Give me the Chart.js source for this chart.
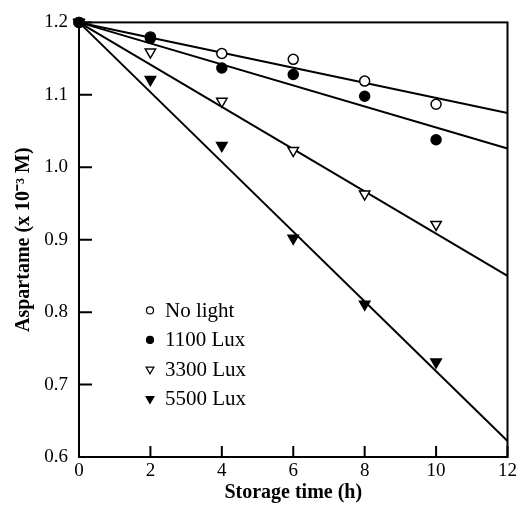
<!DOCTYPE html>
<html>
<head>
<meta charset="utf-8">
<script src="https://cdn.jsdelivr.net/npm/chart.js@4/dist/chart.umd.min.js"></script>
<style>
  html, body { margin: 0; padding: 0; background: #fff; }
  canvas { display: block; }
</style>
</head>
<body>
<canvas id="aspartameChart" width="520" height="507"></canvas>
<script>
// Measured points (storage time in h, aspartame in 10^-3 M)
const hours = [0, 2, 4, 6, 8, 10];
const noLight = [1.20, 1.18, 1.157, 1.149, 1.119, 1.087];
const lux1100 = [1.20, 1.178, 1.137, 1.128, 1.098, 1.038];
const lux3300 = [1.20, 1.159, 1.091, 1.023, 0.963, 0.921];
const lux5500 = [1.20, 1.121, 1.030, 0.902, 0.811, 0.731];

// Fitted lines (start and end values)
const fitHours = [0, 12];
const fitNoLight = [1.20, 1.075];
const fit1100 = [1.20, 1.026];
const fit3300 = [1.20, 0.850];
const fit5500 = [1.20, 0.622];

const seriesNames = ['No light', '1100 Lux', '3300 Lux', '5500 Lux'];
const xTicks = [0, 2, 4, 6, 8, 10, 12];
const yTicks = [0.6, 0.7, 0.8, 0.9, 1.0, 1.1, 1.2];

const serif = '"Liberation Serif", "Times New Roman", serif';

function toPoints(xs, ys) {
    return xs.map((x, i) => ({ x: x, y: ys[i] }));
}

// Markers for each series
const markerStyles = [
    { pointStyle: 'circle', rotation: 0, fill: '#fff', radius: 5 },
    { pointStyle: 'circle', rotation: 0, fill: '#000', radius: 5 },
    { pointStyle: 'triangle', rotation: 180, fill: '#fff', radius: 6 },
    { pointStyle: 'triangle', rotation: 180, fill: '#000', radius: 6 }
];

const measured = [noLight, lux1100, lux3300, lux5500];
const fits = [fitNoLight, fit1100, fit3300, fit5500];

const datasets = [];

// fitted lines: high order so they are drawn below the markers
fits.forEach((f, i) => {
    datasets.push({
        label: seriesNames[i] + ' fit',
        data: toPoints(fitHours, f),
        showLine: true,
        borderColor: '#000',
        borderWidth: 2,
        pointRadius: 0,
        fill: false,
        clip: false,
        order: 10
    });
});

// later series on top (filled dot hides the open circle at 2 h)
measured.forEach((m, i) => {
    const s = markerStyles[i];
    datasets.push({
        label: seriesNames[i],
        data: toPoints(hours, m),
        showLine: false,
        pointStyle: s.pointStyle,
        pointRotation: s.rotation,
        pointRadius: s.radius,
        pointBackgroundColor: s.fill,
        pointBorderColor: '#000',
        pointBorderWidth: 1.5,
        clip: false,
        order: 5 - i
    });
});

// Box round the plot plus inward tick marks
const framePlugin = {
    id: 'frame',
    afterDraw(chart) {
        const ctx = chart.ctx;
        const { left, right, top, bottom } = chart.chartArea;
        ctx.save();
        ctx.strokeStyle = '#000';
        ctx.lineWidth = 2;
        ctx.strokeRect(left, top, right - left, bottom - top);
        ctx.beginPath();
        xTicks.forEach(v => {
            const px = chart.scales.x.getPixelForValue(v);
            ctx.moveTo(px, bottom);
            ctx.lineTo(px, bottom - 11);
        });
        yTicks.forEach(v => {
            const py = chart.scales.y.getPixelForValue(v);
            ctx.moveTo(left, py);
            ctx.lineTo(left + 13, py);
        });
        ctx.stroke();
        ctx.restore();
    }
};

// Legend drawn inside the plot area
const insideLegend = {
    id: 'insideLegend',
    afterDraw(chart) {
        const ctx = chart.ctx;
        const area = chart.chartArea;
        ctx.save();
        ctx.font = '21px ' + serif;
        ctx.textBaseline = 'middle';
        seriesNames.forEach((name, i) => {
            const s = markerStyles[i];
            const x = area.left + 71;
            const y = area.top + 288 + i * 29.5;
            ctx.fillStyle = s.fill;
            ctx.strokeStyle = '#000';
            ctx.lineWidth = 1.2;
            Chart.helpers.drawPoint(ctx, {
                pointStyle: s.pointStyle,
                rotation: s.rotation,
                radius: s.radius - 1.5,
                borderWidth: 1.2
            }, x, y);
            ctx.fillStyle = '#000';
            ctx.fillText(name, x + 15, y + 1);
        });
        ctx.restore();
    }
};

const ctx = document.getElementById('aspartameChart').getContext('2d');
new Chart(ctx, {
    type: 'scatter',
    data: { datasets: datasets },
    options: {
        responsive: false,
        animation: false,
        layout: { padding: { top: 20, right: 10, left: 0, bottom: 0 } },
        plugins: {
            legend: { display: false },
            tooltip: { enabled: false }
        },
        scales: {
            x: {
                type: 'linear',
                min: 0,
                max: 12,
                afterFit(scale) { scale.height = 50; },
                afterBuildTicks(scale) { scale.ticks = xTicks.map(v => ({ value: v })); },
                grid: { display: false, drawTicks: false },
                border: { display: false },
                ticks: {
                    color: '#000',
                    padding: 3,
                    font: { family: serif, size: 19 },
                    maxRotation: 0
                },
                title: {
                    display: true,
                    text: 'Storage time (h)',
                    color: '#000',
                    font: { family: serif, size: 20, weight: 'bold' },
                    padding: { top: 0, bottom: 2 }
                }
            },
            y: {
                type: 'linear',
                min: 0.6,
                max: 1.2,
                afterFit(scale) { scale.width = 79; },
                afterBuildTicks(scale) { scale.ticks = yTicks.map(v => ({ value: v })); },
                grid: { display: false, drawTicks: false },
                border: { display: false },
                ticks: {
                    color: '#000',
                    padding: 11,
                    font: { family: serif, size: 19 },
                    callback: v => v.toFixed(1)
                },
                title: {
                    display: true,
                    text: 'Aspartame (x 10\u207B\u00B3 M)',
                    color: '#000',
                    font: { family: serif, size: 20, weight: 'bold' },
                    padding: { top: 12, bottom: 0 }
                }
            }
        }
    },
    plugins: [framePlugin, insideLegend]
});
</script>
</body>
</html>
